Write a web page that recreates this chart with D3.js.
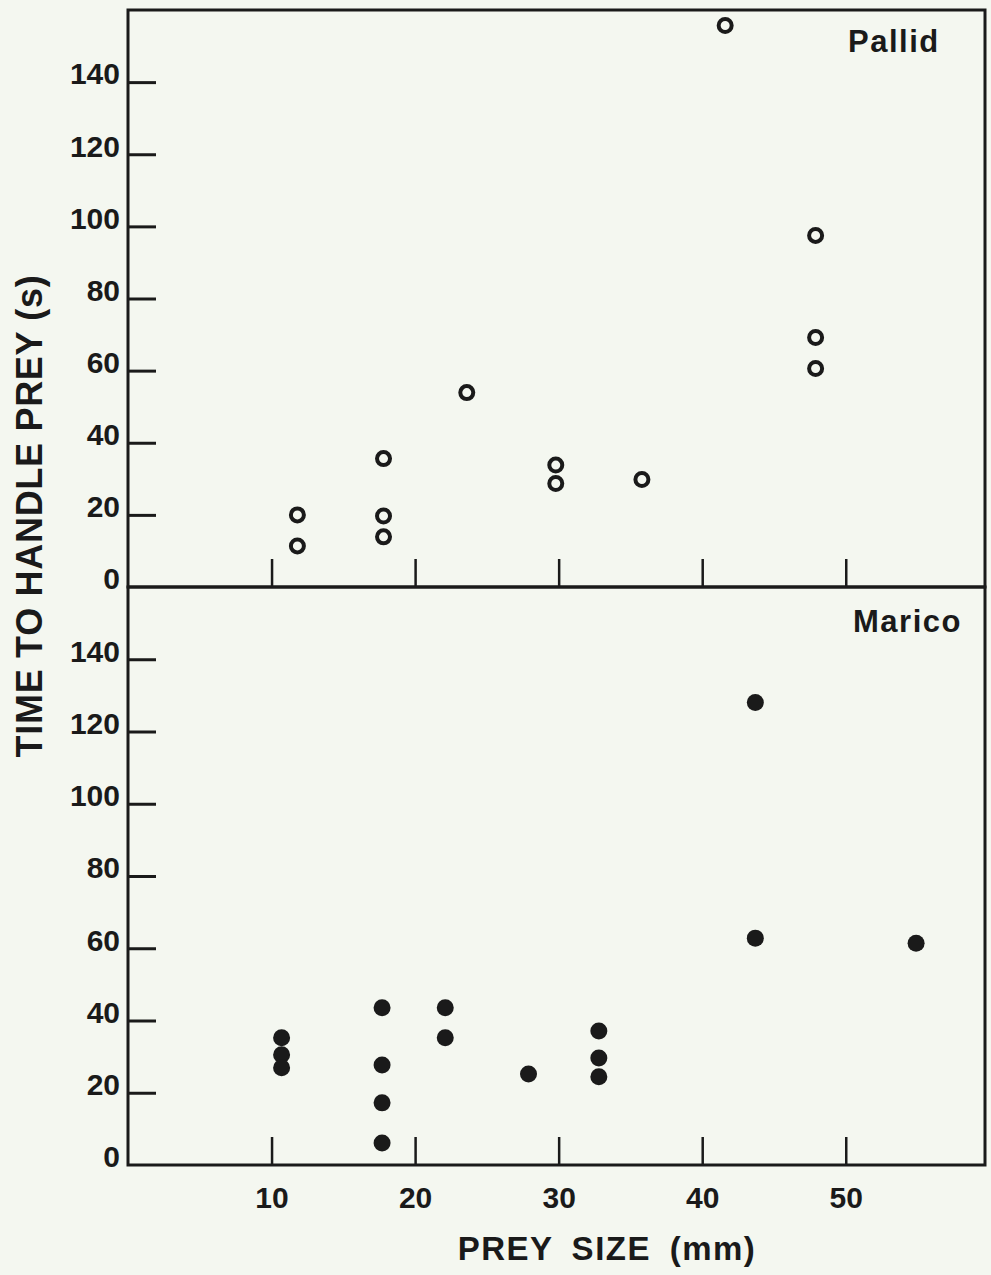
<!DOCTYPE html>
<html>
<head>
<meta charset="utf-8">
<script src="https://cdn.jsdelivr.net/npm/d3@7/dist/d3.min.js"></script>
<style>
  body { margin: 0; background: #f4f7f0; }
  svg { display: block; }
  text { font-family: 'Liberation Sans', Arial, sans-serif; font-weight: bold; fill: #1a1a1a; }
</style>
</head>
<body>
<div id="chart"></div>
<script>
// prey size (mm) and handling time (s)
var pallidSize = [11.8, 11.8, 17.8, 17.8, 17.8, 23.6, 29.8, 29.8, 35.8, 41.6, 47.9, 47.9, 47.9]
var pallidTime = [20, 11.4, 35.6, 19.7, 13.9, 53.9, 33.8, 28.7, 29.8, 155.7, 97.5, 69.2, 60.6]

var maricoSize = [10.7, 10.7, 10.7, 17.7, 17.7, 17.7, 17.7, 22.1, 22.1, 27.9, 32.8, 32.8, 32.8, 43.7, 43.7, 54.9]
var maricoTime = [35.2, 30.5, 26.9, 43.5, 27.7, 17.2, 6.1, 43.5, 35.2, 25.2, 37.1, 29.6, 24.4, 128, 62.8, 61.4]

var xTicks = [10, 20, 30, 40, 50]
var yTicks = [0, 20, 40, 60, 80, 100, 120, 140]
var panelNames = ['Pallid', 'Marico']

var ink = '#1a1a1a'
var width = 991
var height = 1275
var left = 128
var right = 985
var panelTop = [10, 587]
var panelBottom = [587, 1165]

var svg = d3.select('#chart').append('svg')
  .attr('width', width)
  .attr('height', height)

var x = d3.scaleLinear()
  .domain([0, 59.7])
  .range([left, right])

function zip (xs, ys) {
  return xs.map(function (v, i) { return {x: v, y: ys[i]} })
}

var panels = [
  {name: panelNames[0], data: zip(pallidSize, pallidTime), open: true, labelX: 848, labelY: 52},
  {name: panelNames[1], data: zip(maricoSize, maricoTime), open: false, labelX: 853, labelY: 632}
]

panels.forEach(function (p, i) {
  var y = d3.scaleLinear()
    .domain([0, 160])
    .range([panelBottom[i], panelTop[i]])

  var g = svg.append('g')

  // y axis, ticks pointing inward
  var ya = g.append('g')
    .attr('transform', 'translate(' + left + ',0)')
    .call(d3.axisLeft(y).tickValues(yTicks).tickSizeInner(-28).tickSizeOuter(0).tickPadding(8))
  ya.select('.domain').remove()
  ya.selectAll('.tick line')
    .attr('stroke', ink)
    .attr('stroke-width', 3)
    .filter(function (d) { return d === 0 }).remove()
  ya.selectAll('.tick text')
    .attr('dy', '0.06em')
    .style('font-size', '30px')
    .style('font-family', "'Liberation Sans', Arial, sans-serif")
    .style('font-weight', 'bold')
    .attr('fill', ink)

  // x axis, labels only on the lower panel
  var xAxis = d3.axisBottom(x).tickValues(xTicks).tickSizeInner(-28).tickSizeOuter(0).tickPadding(22)
  if (i === 0) xAxis.tickFormat('')
  var xa = g.append('g')
    .attr('transform', 'translate(0,' + panelBottom[i] + ')')
    .call(xAxis)
  xa.select('.domain').remove()
  xa.selectAll('.tick line')
    .attr('stroke', ink)
    .attr('stroke-width', 2.5)
  xa.selectAll('.tick text')
    .style('font-size', '30px')
    .style('font-family', "'Liberation Sans', Arial, sans-serif")
    .style('font-weight', 'bold')
    .attr('fill', ink)

  // frame
  g.append('rect')
    .attr('x', left)
    .attr('y', panelTop[i])
    .attr('width', right - left)
    .attr('height', panelBottom[i] - panelTop[i])
    .attr('fill', 'none')
    .attr('stroke', ink)
    .attr('stroke-width', 3)

  g.selectAll('circle')
    .data(p.data)
    .enter().append('circle')
    .attr('cx', function (d) { return x(d.x) })
    .attr('cy', function (d) { return y(d.y) })
    .attr('r', p.open ? 6.5 : 8.5)
    .attr('fill', p.open ? 'none' : ink)
    .attr('stroke', p.open ? ink : 'none')
    .attr('stroke-width', 4)

  g.append('text')
    .attr('x', p.labelX)
    .attr('y', p.labelY)
    .style('font-size', '31px')
    .style('letter-spacing', '1.5px')
    .text(p.name)
})

svg.append('text')
  .attr('transform', 'translate(42,516) rotate(-90)')
  .attr('text-anchor', 'middle')
  .style('font-size', '36px')
  .style('letter-spacing', '0.7px')
  .text('TIME TO HANDLE PREY (s)')

svg.append('text')
  .attr('x', 607)
  .attr('y', 1260)
  .attr('text-anchor', 'middle')
  .style('font-size', '33px')
  .style('letter-spacing', '1.5px')
  .style('word-spacing', '8px')
  .text('PREY SIZE (mm)')
</script>
</body>
</html>
